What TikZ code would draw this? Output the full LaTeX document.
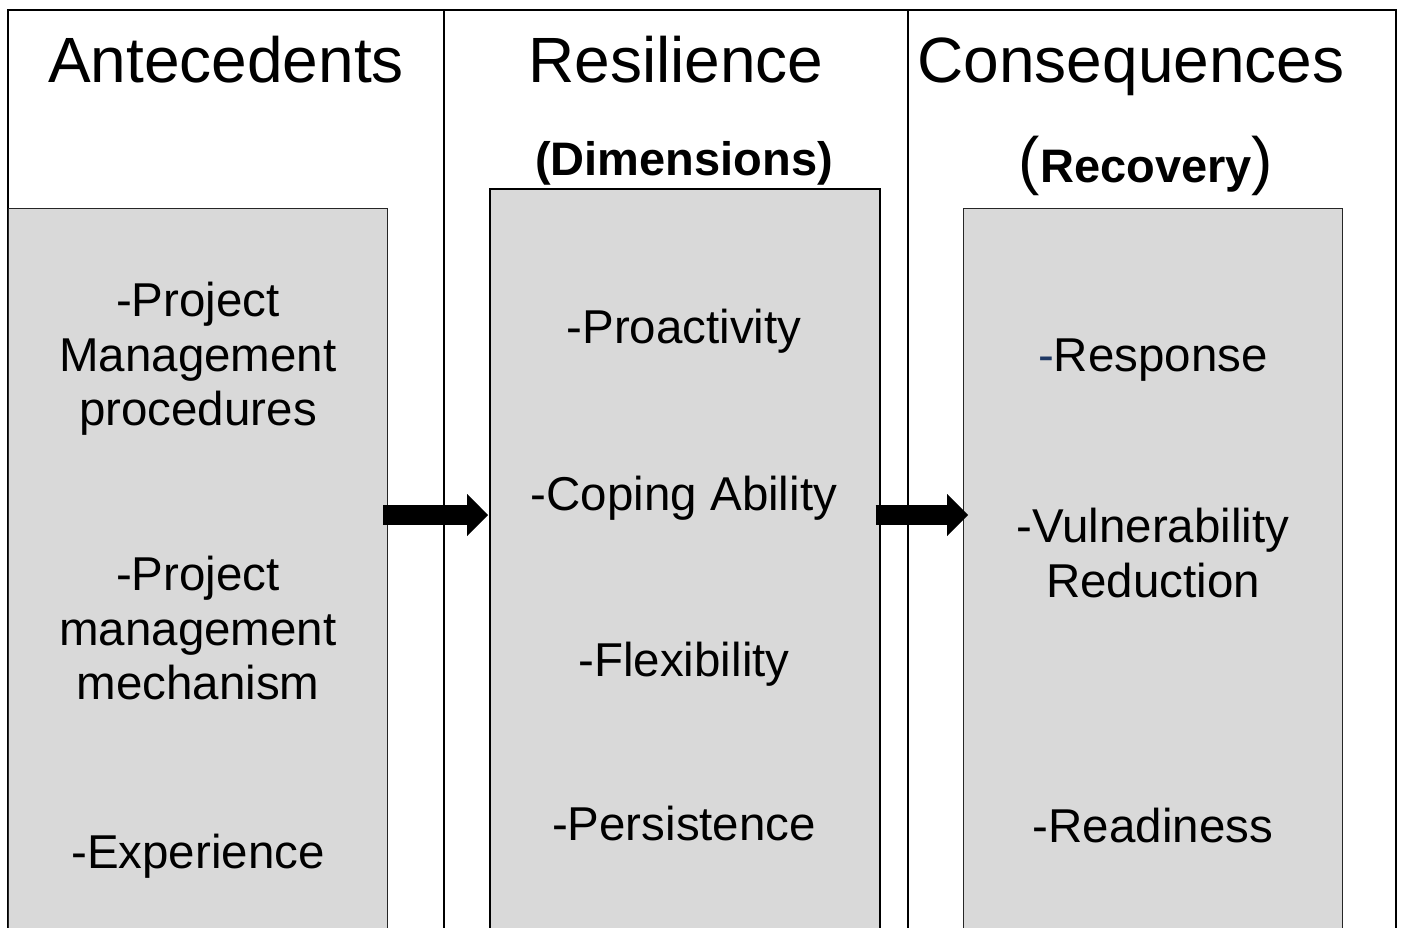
\documentclass[tikz,border=0pt]{standalone}
\usepackage{fontspec}
\setmainfont{Liberation Sans}
\usetikzlibrary{arrows.meta,positioning}
\definecolor{boxgray}{HTML}{D9D9D9}
\definecolor{dashblue}{HTML}{1F3864}

\tikzset{
  colbox/.style={draw=black!85,fill=boxgray,line width=1.2pt,inner sep=0pt,
                 anchor=north west,minimum height=800pt},
  head/.style={font=\fontsize{64}{70}\selectfont,anchor=base,inner sep=0pt},
  subhead/.style={font=\fontsize{47}{52}\selectfont\bfseries,anchor=base,inner sep=0pt},
  item/.style={font=\fontsize{47.5}{54.5}\selectfont,align=center,anchor=north,inner sep=0pt},
  bigarrow/.style={line width=20pt,
                   -{Triangle[length=21pt,width=42pt,line width=0.1pt]}}
}

\begin{document}
\begin{tikzpicture}[x=1pt,y=-1pt]
  \path[use as bounding box,clip] (0,0) rectangle (1405,927);

  % frame of the three columns
  \draw[line width=1.2pt] (8,960) -- (8,10) -- (1396,10) -- (1396,960);
  \draw[line width=1.2pt] (444,10) -- (444,960);
  \draw[line width=1.2pt] (908,10) -- (908,960);

  % headings
  \node[head] (hante) at (226,82) {Antecedents};
  \node[head] (hres) at (676,82) {Resilience};
  \node[head] (hcons) at (1131,82) {Consequences};
  \node[subhead] (hdim) at (684,175) {(Dimensions)};
  \node[subhead] (hrec) at (1146,182)
    {{\fontsize{64}{70}\selectfont\mdseries(}Recovery{\fontsize{64}{70}\selectfont\mdseries)}};

  % grey boxes
  \node[colbox,minimum width=379pt] (ante) at (8,208) {};
  \node[colbox,minimum width=390pt,line width=1.6pt,draw=black] (dim) at (489,188) {};
  \node[colbox,minimum width=379pt] (rec) at (963,208) {};

  % antecedents
  \node[item] (a1) at (198,282) {-Project\\Management\\procedures};
  \node[item] (a2) at (198,556) {-Project\\management\\mechanism};
  \node[item] (a3) at (198,834) {-Experience};

  % dimensions
  \node[item] (d1) at (684,309) {-Proactivity};
  \node[item] (d2) at (684,476) {-Coping Ability};
  \node[item] (d3) at (684,642) {-Flexibility};
  \node[item] (d4) at (684,806) {-Persistence};

  % recovery
  \node[item] (r1) at (1153,339) {\textcolor{dashblue}{-}Response};
  \node[item] (r2) at (1153,508) {-Vulnerability\\Reduction};
  \node[item] (r3) at (1153,808) {-Readiness};

  % arrows
  \coordinate (mid) at (0,515);
  \draw[bigarrow] ([xshift=-5pt]ante.east |- mid) -- ([xshift=-1pt]dim.west |- mid);
  \draw[bigarrow] ([xshift=-5pt]dim.east |- mid) -- ([xshift=5pt]rec.west |- mid);
\end{tikzpicture}
\end{document}
